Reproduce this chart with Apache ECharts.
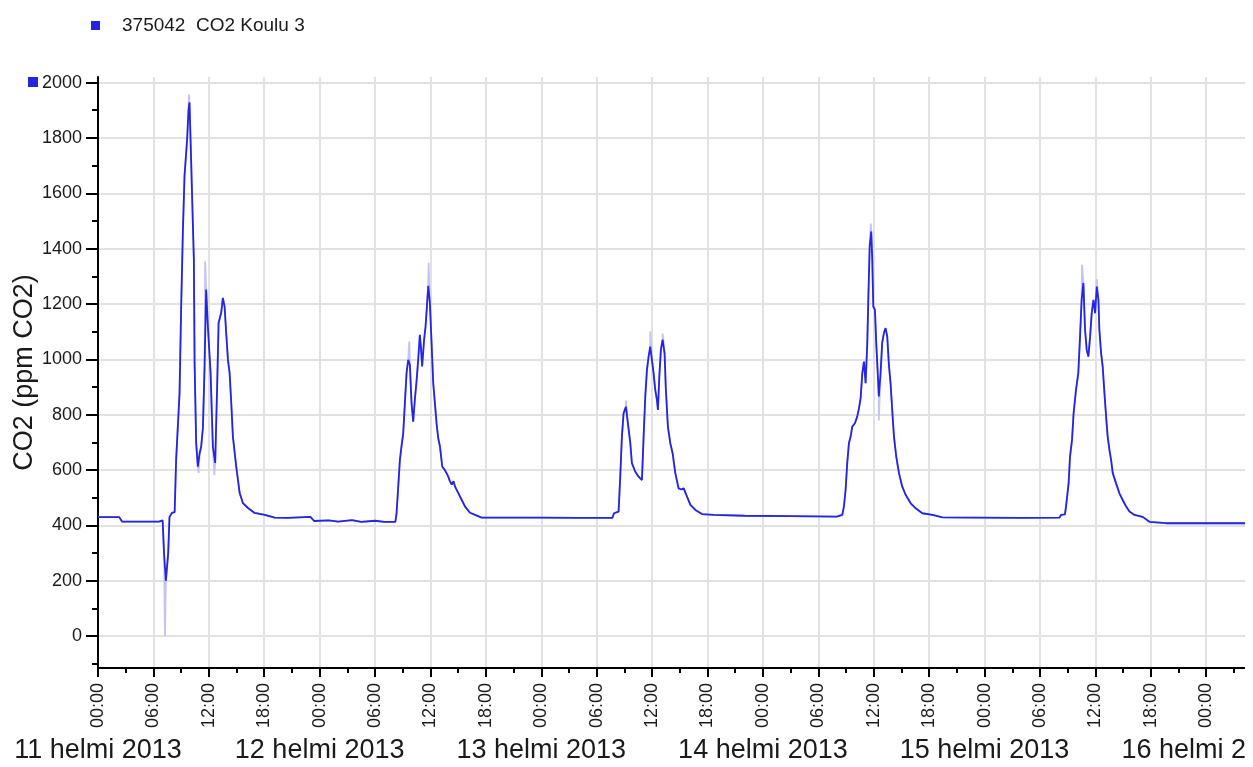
<!DOCTYPE html>
<html>
<head>
<meta charset="utf-8">
<title>CO2 Koulu 3</title>
<script src="https://cdn.jsdelivr.net/npm/echarts@6/dist/echarts.min.js"></script>
<style>
  html, body { margin: 0; padding: 0; background: #fff; }
  #chart { width: 1245px; height: 767px; }
</style>
</head>
<body>
<div id="chart"></div>
<script>
// hours since 11 helmi 2013 00:00
const hours = [
  0, 2.3, 2.6, 6.6, 6.8, 7.0, 7.15, 7.35, 7.6, 7.74, 8.0, 8.3, 8.46, 8.83, 9.0, 9.19, 9.37, 9.65, 9.8, 9.91,
  10.09, 10.38, 10.46, 10.63, 10.81, 11.0, 11.17, 11.36, 11.54, 11.71, 11.9, 12.19, 12.44, 12.69, 12.9, 13.06,
  13.34, 13.52, 13.71, 13.88, 14.07, 14.25, 14.43, 14.61, 14.97, 15.34, 15.69, 16.24, 16.96, 18.05, 19.13,
  20.57, 23.0, 23.4, 25.0, 26.0, 27.5, 28.5, 30.0, 31.0, 32.2,
  32.33, 32.51, 32.69, 32.86, 33.05, 33.23, 33.41, 33.59, 33.77, 33.95, 34.13, 34.31, 34.49, 34.67, 34.85,
  34.96, 35.1, 35.31, 35.47, 35.62, 35.76, 35.94, 36.12, 36.3, 36.48, 36.66, 36.84, 37.03, 37.28, 37.57,
  37.93, 38.1, 38.3, 38.5, 38.66, 39.03, 39.39, 39.75, 40.28, 40.83, 41.54, 47.7, 52.0, 55.7,
  55.87, 56.37, 56.55, 56.73, 56.91, 57.16, 57.38, 57.64, 57.81, 58.18, 58.54, 58.9, 59.08, 59.26, 59.44,
  59.62, 59.8, 59.98, 60.16, 60.34, 60.52, 60.63, 60.78, 60.95, 61.14, 61.35, 61.49, 61.71, 61.97, 62.22,
  62.51, 62.87, 63.15, 63.42, 63.78, 64.15, 64.69, 65.4, 66.67, 70.0, 75.0, 80.0,
  80.59, 80.77, 80.95, 81.13, 81.31, 81.5, 81.67, 81.96, 82.21, 82.4, 82.58, 82.76, 82.94, 83.12, 83.3,
  83.41, 83.56, 83.73, 83.84, 83.95, 84.13, 84.27, 84.45, 84.55, 84.74, 84.91, 85.1, 85.28, 85.46, 85.64,
  85.82, 86.0, 86.19, 86.44, 86.73, 87.09, 87.46, 88.0, 88.55, 89.26, 90.35, 91.44, 95.0, 100.0, 104.1,
  104.27, 104.7, 104.82, 105.1, 105.25, 105.47, 105.64, 105.9, 106.15, 106.34, 106.51, 106.7, 106.88,
  107.06, 107.24, 107.43, 107.6, 107.79, 107.97, 108.15, 108.33, 108.43, 108.62, 108.79, 108.98, 109.16,
  109.33, 109.52, 109.7, 109.88, 110.24, 110.6, 110.96, 111.33, 111.69, 112.23, 113.12, 113.85, 115.65,
  120.0, 124.2
];

// CO2 (ppm), same order as hours
const co2 = [
  430, 430, 414, 414, 420, 418, 300, 200, 300, 430, 445, 448, 637, 878, 1179, 1462, 1663, 1794, 1900, 1928,
  1711, 1360, 987, 698, 612, 660, 684, 752, 973, 1252, 1118, 951, 684, 626, 900, 1132,
  1168, 1222, 1190, 1096, 998, 951, 843, 720, 612, 517, 481, 463, 445, 438, 428,
  427, 431, 416, 418, 414, 419, 413, 417, 413, 413,
  444, 540, 637, 685, 733, 842, 950, 998, 980, 842, 775, 854, 920, 998, 1089,
  1046, 974, 1071, 1119, 1193, 1266, 1203, 1059, 914, 842, 769, 715, 685, 612, 600,
  576, 560, 548, 560, 540, 516, 492, 468, 446, 438, 428, 428, 427, 427,
  444, 450, 576, 721, 805, 829, 769, 697, 625, 594, 576, 564, 721, 865, 962,
  1010, 1046, 998, 950, 890, 854, 817, 938, 1034, 1071, 1022, 890, 757, 697, 661,
  589, 534, 530, 534, 504, 474, 456, 441, 438, 435, 434, 432,
  438, 468, 528, 625, 697, 721, 757, 769, 793, 823, 860, 950, 992, 914, 1059,
  1215, 1408, 1462, 1360, 1191, 1179, 1059, 938, 866, 950, 1059, 1095, 1113, 1083, 980,
  914, 817, 721, 648, 589, 540, 510, 480, 462, 444, 438, 429, 428, 427, 428,
  438, 440, 468, 552, 648, 709, 805, 890, 950, 1083, 1215, 1276, 1107,
  1034, 1010, 1083, 1167, 1215, 1167, 1263, 1215, 1107, 1022, 974, 878, 793,
  721, 673, 637, 589, 552, 516, 492, 468, 450, 438, 431, 413, 408,
  408, 408
];

// faint min/max readings that poke out of the main trace
const spikeHours = [7.25, 9.85, 10.9, 11.6, 12.6, 33.7, 35.8, 57.16, 59.8, 61.14, 83.68, 84.55, 106.55, 108.15];
const spikeCo2   = [0, 1957, 590, 1354, 582, 1064, 1349, 851, 1101, 1093, 1491, 779, 1342, 1290];

const yTickValues = [0, 200, 400, 600, 800, 1000, 1200, 1400, 1600, 1800, 2000];
const yMinorTickValues = [-100, 100, 300, 500, 700, 900, 1100, 1300, 1500, 1700, 1900];
const xTickHours = [0, 6, 12, 18, 24, 30, 36, 42, 48, 54, 60, 66, 72, 78, 84, 90, 96, 102, 108, 114, 120];
const xMinorTickHours = [3, 9, 15, 21, 27, 33, 39, 45, 51, 57, 63, 69, 75, 81, 87, 93, 99, 105, 111, 117, 123];
const dayHours = [0, 24, 48, 72, 96, 120];
const dayLabels = ["11 helmi 2013", "12 helmi 2013", "13 helmi 2013", "14 helmi 2013", "15 helmi 2013", "16 helmi 2013"];

const seriesName = "375042  CO2 Koulu 3";
const font = "'Liberation Sans', Arial, sans-serif";
const blue = "#2424e2";

const mainData = hours.map((h, i) => [h, co2[i]]);
const spikeData = mainData
  .concat(spikeHours.map((h, i) => [h, spikeCo2[i]]))
  .sort((a, b) => a[0] - b[0]);

const X_MAX = 124.2;
const Y_MIN = -115;
const Y_MAX = 2020;

const chart = echarts.init(document.getElementById("chart"));

chart.setOption({
  animation: false,
  backgroundColor: "#fff",
  textStyle: { fontFamily: font },
  grid: {
    left: 98,
    right: 0,
    top: 77,
    bottom: 99,
    containLabel: false,
    outerBoundsMode: "none",
  },
  legend: {
    data: [seriesName],
    left: 91,
    top: 16,
    padding: 0,
    icon: "rect",
    itemWidth: 9,
    itemHeight: 9,
    textStyle: {
      fontFamily: font,
      fontSize: 19,
      color: "#1a1a1a",
      padding: [0, 0, 0, 17],
    },
  },
  graphic: [
    {
      type: "rect",
      left: 28,
      top: 77,
      shape: { width: 10, height: 10 },
      style: { fill: blue },
    },
  ],
  xAxis: [
    {
      type: "value",
      min: 0,
      max: X_MAX,
      position: "bottom",
      axisLine: { onZero: false, lineStyle: { color: "#000", width: 2 } },
      axisTick: {
        customValues: xTickHours,
        length: 9,
        lineStyle: { color: "#000", width: 2 },
      },
      axisLabel: {
        customValues: xTickHours,
        rotate: 90,
        margin: 15,
        fontSize: 18,
        color: "#1a1a1a",
        fontFamily: font,
        formatter: (v) => {
          const h = Math.round(v) % 24;
          return (h < 10 ? "0" : "") + h + ":00";
        },
      },
      splitLine: { show: true, lineStyle: { color: "#e2e2e2", width: 2 } },
    },
    {
      type: "value",
      min: 0,
      max: X_MAX,
      position: "bottom",
      axisLine: { show: false, onZero: false },
      axisTick: {
        customValues: xMinorTickHours,
        length: 5,
        lineStyle: { color: "#000", width: 2 },
      },
      axisLabel: { show: false },
      splitLine: { show: false },
    },
    {
      type: "value",
      min: 0,
      max: X_MAX,
      position: "bottom",
      offset: 60,
      axisLine: { show: false, onZero: false },
      axisTick: { show: false },
      axisLabel: {
        customValues: dayHours,
        margin: 9,
        fontSize: 27,
        color: "#1a1a1a",
        fontFamily: font,
        formatter: (v) => dayLabels[Math.round(v / 24)],
      },
      splitLine: { show: false },
    },
  ],
  yAxis: [
    {
      type: "value",
      min: Y_MIN,
      max: Y_MAX,
      position: "left",
      name: "CO2 (ppm CO2)",
      nameLocation: "middle",
      nameGap: 60,
      nameMoveOverlap: false,
      nameTextStyle: { fontSize: 27, color: "#1a1a1a", fontFamily: font },
      axisLine: { show: true, onZero: false, lineStyle: { color: "#000", width: 2 } },
      axisTick: {
        customValues: yTickValues,
        length: 12,
        lineStyle: { color: "#000", width: 2 },
      },
      axisLabel: {
        customValues: yTickValues,
        margin: 16,
        fontSize: 18,
        color: "#1a1a1a",
        fontFamily: font,
        formatter: (v) => String(v),
      },
      splitLine: { show: true, lineStyle: { color: "#e2e2e2", width: 2 } },
    },
    {
      type: "value",
      min: Y_MIN,
      max: Y_MAX,
      position: "left",
      axisLine: { show: false, onZero: false },
      axisTick: {
        customValues: yMinorTickValues,
        length: 6,
        lineStyle: { color: "#000", width: 2 },
      },
      axisLabel: { show: false },
      splitLine: { show: false },
    },
  ],
  series: [
    {
      name: "spikes",
      type: "line",
      data: spikeData,
      showSymbol: false,
      silent: true,
      z: 1,
      lineStyle: { color: "#c4c4f4", width: 1.8 },
    },
    {
      name: seriesName,
      type: "line",
      data: mainData,
      showSymbol: false,
      z: 2,
      itemStyle: { color: blue },
      lineStyle: { color: blue, width: 1.8 },
    },
  ],
});
</script>
</body>
</html>
